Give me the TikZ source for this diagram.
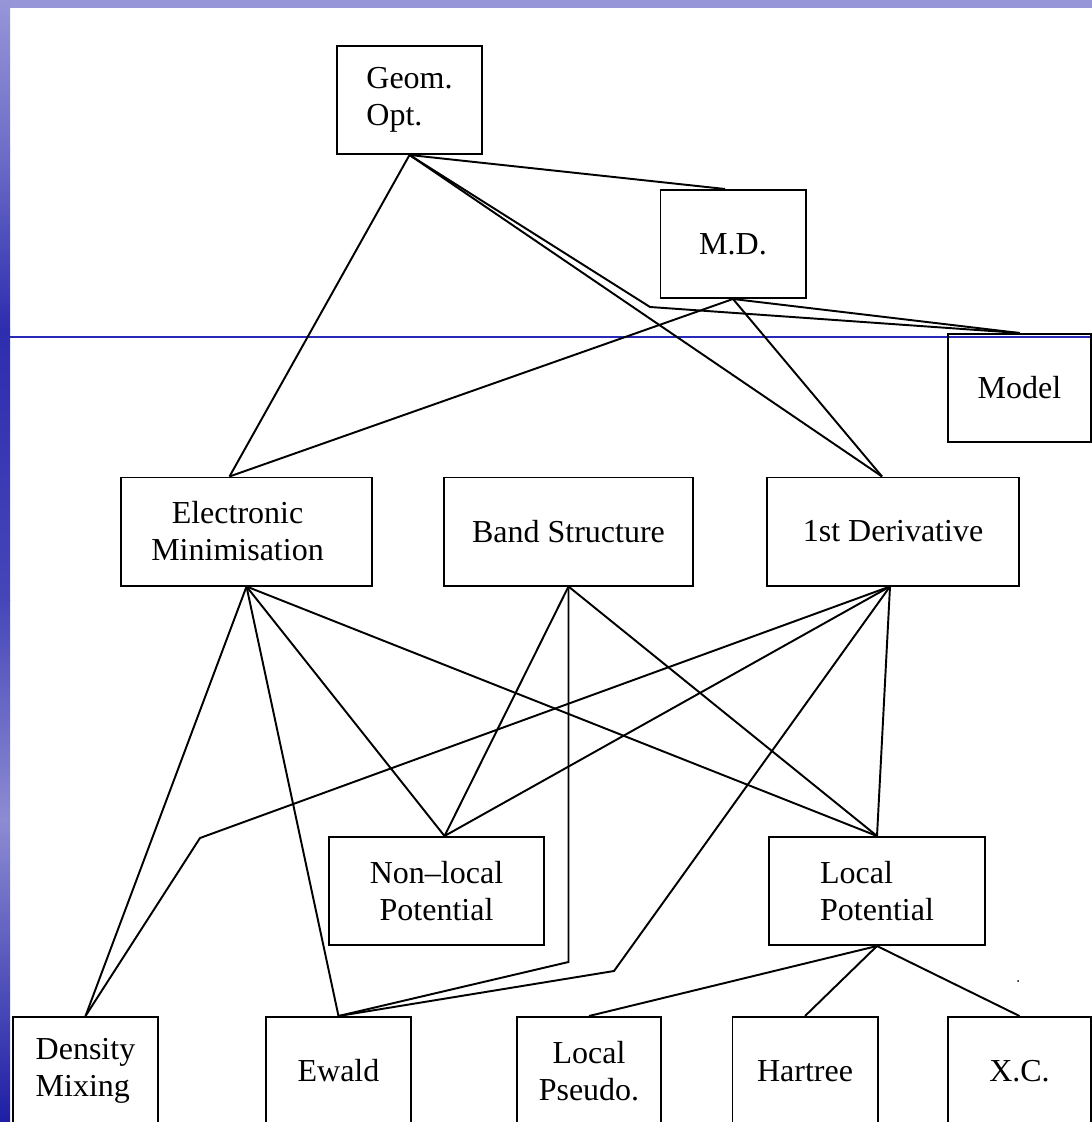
\documentclass[tikz,border=0pt]{standalone}
\usepackage{fontspec}
\setmainfont{Liberation Serif}
\definecolor{frameA}{RGB}{150,150,216}
\definecolor{frameB}{RGB}{110,110,200}
\definecolor{frameC}{RGB}{45,45,175}
\definecolor{frameD}{RGB}{70,70,185}
\definecolor{frameE}{RGB}{140,140,210}
\definecolor{frameF}{RGB}{30,30,165}
\definecolor{rulecol}{RGB}{40,40,185}
\begin{document}
\begin{tikzpicture}[x=0.01cm,y=-0.01cm,
        box/.style={draw,line width=0.55pt,minimum width=1.45cm,minimum height=1.08cm,inner sep=0pt,font=\fontsize{9.1}{10.5}\selectfont},
        wide/.style={box,minimum width=2.51cm},
        link/.style={line width=0.55pt}]
        \clip (0,0) rectangle (1092,1122);
        \fill[white] (0,0) rectangle (1092,1122);

        % Folienrahmen
        \fill[frameA] (0,0) rectangle (1092,8);
        \shade[top color=frameA,bottom color=frameB] (0,0) rectangle (10,150);
        \shade[top color=frameB,bottom color=frameC] (0,150) rectangle (10,330);
        \shade[top color=frameC,bottom color=frameD] (0,330) rectangle (10,600);
        \shade[top color=frameD,bottom color=frameE] (0,600) rectangle (10,820);
        \shade[top color=frameE,bottom color=frameF] (0,820) rectangle (10,1122);
        \draw[rulecol,line width=0.3pt] (10,337) -- (1092,337);

        \node[box,align=left] (geom) at (409.5,100) {Geom.\\Opt.};
        \node[box] (md) at (733,244) {M.D.};
        \node[box,minimum width=1.43cm] (model) at (1019.5,388) {Model};

        \node[wide,align=center] (elec) at (246.5,531.5) {Electronic\hspace*{0.18cm}\\Minimisation\hspace*{0.18cm}};
        \node[wide,minimum width=2.49cm] (band) at (568.5,531.5) {Band Structure};
        \node[wide,minimum width=2.52cm] (deriv) at (893,531.5) {1st Derivative};

        \node[box,minimum width=2.15cm,align=center] (nonloc) at (436.5,891) {Non--local\\Potential};
        \node[box,minimum width=2.16cm,align=left] (locpot) at (877,891) {Local\\Potential};

        \node[box,align=left] (dens) at (85.5,1071) {Density\\Mixing};
        \node[box] (ewald) at (338.5,1071) {Ewald};
        \node[box,minimum width=1.44cm,align=center] (pseudo) at (589,1071) {Local\\Pseudo.};
        \node[box] (hartree) at (805,1071) {Hartree};
        \node[box,minimum width=1.43cm] (xc) at (1019.5,1071) {X.C.};

        \coordinate (kinkmodel) at (650,307);
        \coordinate (kinkband) at (568.5,962);
        \coordinate (kinkdens) at (200,838);
        \coordinate (kinkewald) at (614,971);

        % Geom. Opt.
        \draw[link] (geom.south) -- ([xshift=-0.17cm]elec.north);
        \draw[link] (geom.south) -- ([xshift=-0.08cm]md.north);
        \draw[link] (geom.south) -- ([xshift=-0.11cm]deriv.north);
        \draw[link] (geom.south) -- (kinkmodel) -- (model.north);

        % M.D.
        \draw[link] (md.south) -- ([xshift=-0.17cm]elec.north);
        \draw[link] (md.south) -- ([xshift=-0.11cm]deriv.north);
        \draw[link] (md.south) -- (model.north);

        % Electronic Minimisation
        \draw[link] (elec.south) -- (dens.north);
        \draw[link] (elec.south) -- (ewald.north);
        \draw[link] (elec.south) -- ([xshift=0.08cm]nonloc.north);
        \draw[link] (elec.south) -- (locpot.north);

        % Band Structure
        \draw[link] (band.south) -- ([xshift=0.08cm]nonloc.north);
        \draw[link] (band.south) -- (kinkband) -- (ewald.north);
        \draw[link] (band.south) -- (locpot.north);

        % 1st Derivative
        \draw[link] ([xshift=-0.03cm]deriv.south) -- (kinkdens) -- (dens.north);
        \draw[link] ([xshift=-0.03cm]deriv.south) -- ([xshift=0.08cm]nonloc.north);
        \draw[link] ([xshift=-0.03cm]deriv.south) -- (kinkewald) -- (ewald.north);
        \draw[link] ([xshift=-0.03cm]deriv.south) -- (locpot.north);

        % Local Potential
        \draw[link] (locpot.south) -- (pseudo.north);
        \draw[link] (locpot.south) -- (hartree.north);
        \draw[link] (locpot.south) -- (xc.north);

        \fill (1018,981) circle (0.01cm);
    \end{tikzpicture}
\end{document}
